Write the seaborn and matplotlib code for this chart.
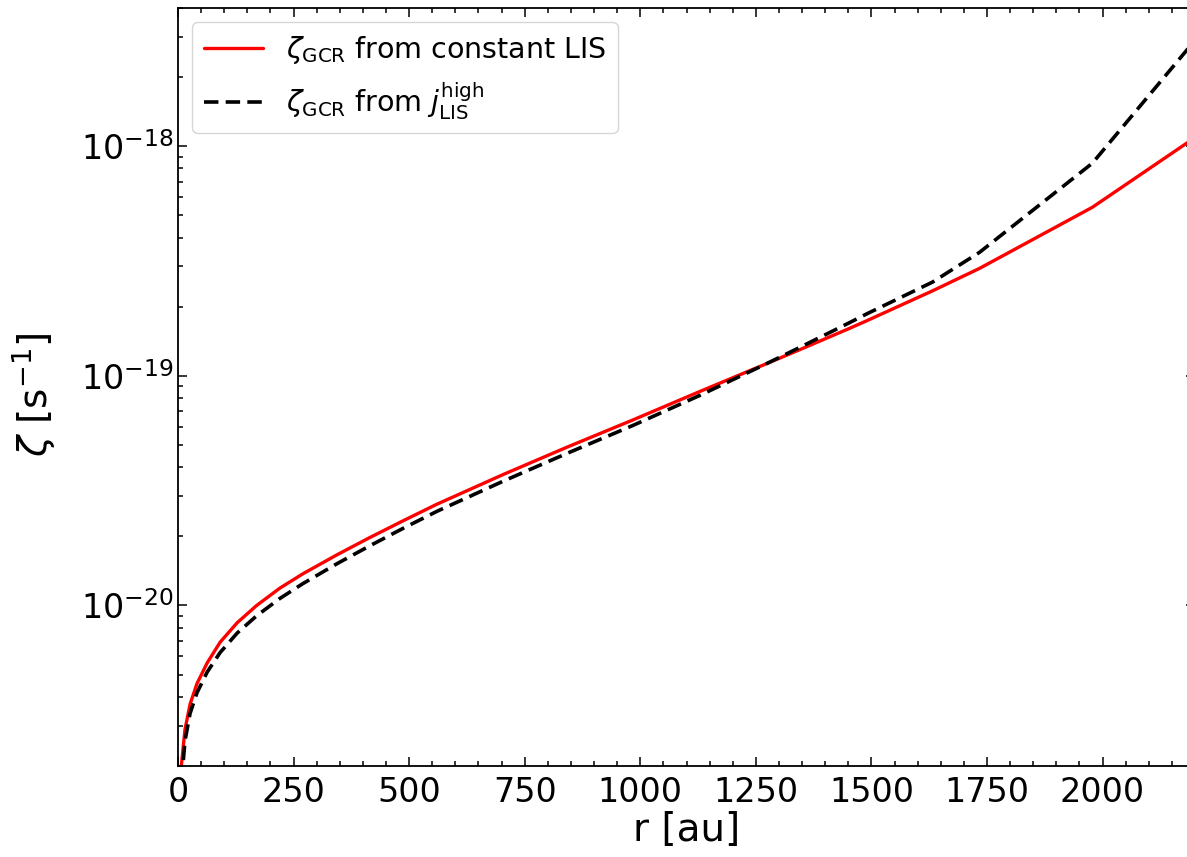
import numpy as np
import pandas as pd
import matplotlib
matplotlib.use("Agg")
import matplotlib.pyplot as plt
import seaborn as sns
from matplotlib.ticker import AutoMinorLocator

# radius grid [au]
r_au = [2, 7, 15, 26, 41, 63, 91, 128, 170, 220, 270, 344, 415, 486, 560, 631,
        703, 841, 984, 1129, 1274, 1345, 1453, 1490, 1632, 1734, 1978, 2222]

# zeta_GCR from constant LIS [s^-1]
zeta_const = [1.072e-21, 1.995e-21, 2.884e-21, 3.715e-21, 4.571e-21, 5.623e-21,
              6.918e-21, 8.414e-21, 1.000e-20, 1.189e-20, 1.374e-20, 1.663e-20,
              1.977e-20, 2.333e-20, 2.761e-20, 3.199e-20, 3.715e-20, 4.887e-20,
              6.427e-20, 8.551e-20, 1.132e-19, 1.300e-19, 1.611e-19, 1.738e-19,
              2.344e-19, 2.938e-19, 5.420e-19, 1.169e-18]

# zeta_GCR from j_LIS^high [s^-1]
zeta_high = [8.91e-22, 1.660e-21, 2.570e-21, 3.388e-21, 4.169e-21, 5.129e-21,
             6.237e-21, 7.586e-21, 9.016e-21, 1.072e-20, 1.245e-20, 1.521e-20,
             1.820e-20, 2.163e-20, 2.570e-20, 2.985e-20, 3.475e-20, 4.592e-20,
             6.081e-20, 8.222e-20, 1.132e-19, 1.330e-19, 1.706e-19, 1.862e-19,
             2.559e-19, 3.451e-19, 8.433e-19, 3.266e-18]

sns.set_theme(style="ticks", rc={"axes.edgecolor": "black", "xtick.color": "black",
                                 "ytick.color": "black", "axes.labelcolor": "black",
                                 "text.color": "black"})
plt.rcParams["font.family"] = ["DejaVu Sans"]
plt.rcParams["mathtext.fontset"] = "dejavusans"

fig = plt.figure(figsize=(11.87, 8.57), dpi=100)
ax = fig.add_axes([0.15, 0.1062, 1.0067 - 0.15, 0.9907 - 0.1062])

sns.lineplot(x=r_au, y=zeta_const, color="red", lw=2.4, ax=ax,
             label=r"$\zeta_{\rm GCR}$ from constant LIS")
sns.lineplot(x=r_au, y=zeta_high, color="black", lw=2.6, ax=ax,
             dashes=False, linestyle=(0, (4, 2)),
             label=r"$\zeta_{\rm GCR}$ from $j_{\rm LIS}^{\rm high}$")

ax.set_yscale("log")
ax.set_xlim(0, 2200)
ax.set_ylim(2e-21, 4e-18)
ax.set_xticks([0, 250, 500, 750, 1000, 1250, 1500, 1750, 2000])
ax.xaxis.set_minor_locator(AutoMinorLocator(5))

ax.tick_params(which="both", direction="in", top=True, right=True, width=1.1)
ax.tick_params(which="major", length=6.5, labelsize=24)
ax.tick_params(which="minor", length=3.5)
ax.tick_params(axis="x", which="major", pad=7)
for s in ax.spines.values():
    s.set_linewidth(1.3)

ax.set_xlabel("r [au]", fontsize=28, labelpad=2)
ax.set_ylabel(r"$\zeta$ [s$^{-1}$]", fontsize=28)
ax.yaxis.set_label_coords(-0.119, 0.49)

ax.legend(loc="upper left", fontsize=20.5, handlelength=2.1, frameon=True)

fig.savefig("out.png", dpi=100)
